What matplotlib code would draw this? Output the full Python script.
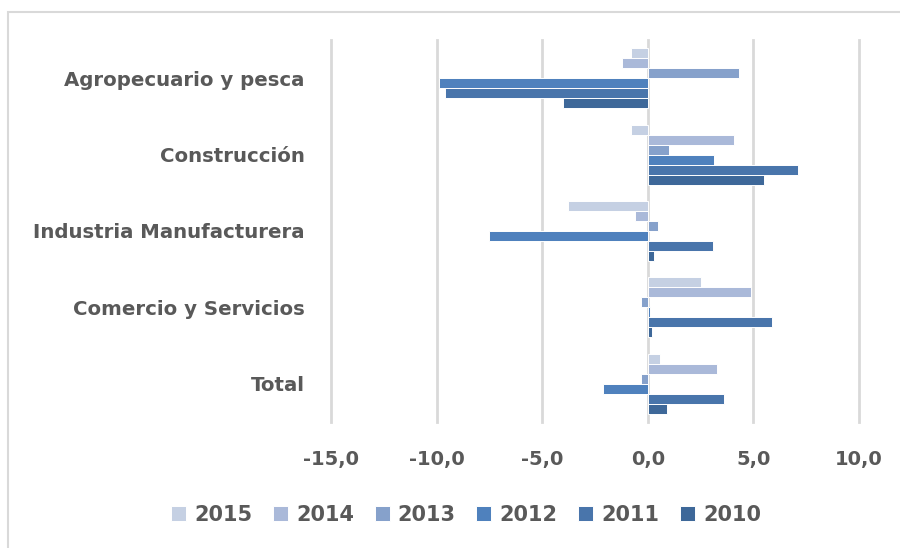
import matplotlib
matplotlib.use("Agg")
import matplotlib.pyplot as plt
import numpy as np
from matplotlib.ticker import FuncFormatter, FixedLocator
from matplotlib.patches import Rectangle

categories = ["Agropecuario y pesca", "Construcción", "Industria Manufacturera",
              "Comercio y Servicios", "Total"]
years = ["2015", "2014", "2013", "2012", "2011", "2010"]
v2015 = [-0.8, -0.8, -3.8, 2.5, 0.6]
v2014 = [-1.2, 4.1, -0.6, 4.9, 3.3]
v2013 = [4.3, 1.0, 0.5, -0.3, -0.3]
v2012 = [-9.9, 3.15, -7.5, 0.1, -2.1]
v2011 = [-9.6, 7.1, 3.1, 5.9, 3.6]
v2010 = [-4.0, 5.5, 0.3, 0.2, 0.9]
series = [v2015, v2014, v2013, v2012, v2011, v2010]
colors = ["#c5d0e3", "#aab9d9", "#86a1cb", "#4f81bd", "#4975ab", "#3e6899"]
xticks = [-15, -10, -5, 0, 5, 10]

FONT = "DejaVu Sans"
TXT = "#595959"

fig = plt.figure(figsize=(9, 5.48), dpi=100)
fig.patches.append(Rectangle((8/900, -0.1), 1.2, 1 - 12/548 + 0.1, transform=fig.transFigure,
                             fill=False, edgecolor="#d9d9d9", linewidth=1.5))
ax = fig.add_axes([331/900, 1 - 422/548, (859 - 331)/900, (422 - 40)/548])

w = 0.1307
y = np.arange(len(categories))
for i, (vals, c, yr) in enumerate(zip(series, colors, years)):
    ax.barh(y + (i - 2.5) * w, vals, height=w, color=c, edgecolor="white",
            linewidth=0.7, label=yr, zorder=3)

ax.set_xlim(-15, 10)
ax.set_ylim(4.5, -0.5)
ax.xaxis.set_major_locator(FixedLocator(xticks))
ax.xaxis.set_major_formatter(FuncFormatter(lambda v, p: f"{v:.1f}".replace(".", ",")))
ax.set_yticks(y)
ax.set_yticklabels(categories)
ax.grid(axis="x", color="#d9d9d9", linewidth=2, zorder=0)
for gl in ax.get_xgridlines():
    gl.set_clip_on(False)
for s in ax.spines.values():
    s.set_visible(False)
ax.tick_params(length=0)
ax.tick_params(axis="x", pad=20)
ax.tick_params(axis="y", pad=19)
for lab in ax.get_xticklabels():
    lab.set_fontfamily(FONT)
    lab.set_fontweight("bold")
    lab.set_fontsize(14)
    lab.set_color(TXT)
for lab in ax.get_yticklabels():
    lab.set_fontfamily(FONT)
    lab.set_fontweight("bold")
    lab.set_fontsize(14.2)
    lab.set_color(TXT)

leg = fig.legend(loc="center", bbox_to_anchor=(466/900, 1 - 515/548), ncol=6, frameon=False,
                 handlelength=0.72, handleheight=0.72, handletextpad=0.38, columnspacing=1.0,
                 borderpad=0, prop={"family": FONT, "weight": "bold", "size": 15})
for t in leg.get_texts():
    t.set_color(TXT)

fig.savefig("out.png", dpi=100)
